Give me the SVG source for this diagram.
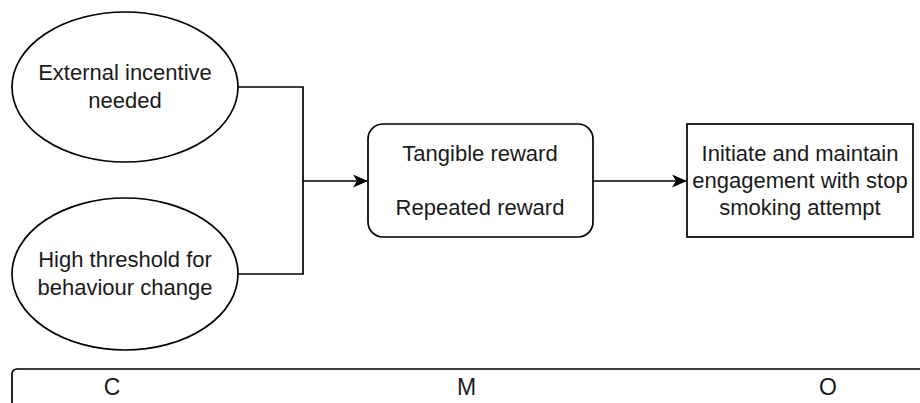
<svg xmlns="http://www.w3.org/2000/svg" width="920" height="403" viewBox="0 0 920 403">
  <style>
    .shape { fill: #ffffff; stroke: #000000; stroke-width: 1.7; }
    .edge { fill: none; stroke: #000000; stroke-width: 1.7; }
    .label { font-family: "Liberation Sans", Arial, sans-serif; font-size: 22px; fill: #1a1a1a; text-anchor: middle; }
    .cmo { font-family: "Liberation Sans", Arial, sans-serif; font-size: 23px; fill: #1a1a1a; text-anchor: middle; }
  </style>
  <defs>
    <marker id="arrow" viewBox="0 0 15 13" refX="14" refY="6.5" markerWidth="15" markerHeight="13" markerUnits="userSpaceOnUse" orient="auto">
      <path d="M0,0 L15,6.5 L0,13 L4,6.5 Z" fill="#000000"/>
    </marker>
  </defs>
  <rect width="920" height="403" fill="#ffffff"/>

  <g id="connectors">
    <path class="edge" d="M238,87 H303 V274 H238"/>
    <path class="edge" d="M303,181 H367" marker-end="url(#arrow)"/>
    <path class="edge" d="M593,181 H686" marker-end="url(#arrow)"/>
  </g>

  <g id="context-incentive">
    <ellipse class="shape" cx="125" cy="87" rx="113" ry="75"/>
    <text class="label" x="125" y="80">External incentive</text>
    <text class="label" x="125" y="108">needed</text>
  </g>

  <g id="context-threshold">
    <ellipse class="shape" cx="125" cy="274" rx="113" ry="76"/>
    <text class="label" x="125" y="267">High threshold for</text>
    <text class="label" x="125" y="295">behaviour change</text>
  </g>

  <g id="mechanism">
    <rect class="shape" x="368" y="124" width="225" height="113" rx="15" ry="15"/>
    <text class="label" x="480" y="161">Tangible reward</text>
    <text class="label" x="480" y="215">Repeated reward</text>
  </g>

  <g id="outcome">
    <rect class="shape" x="687" y="124" width="226" height="113"/>
    <text class="label" x="800" y="161">Initiate and maintain</text>
    <text class="label" x="800" y="188">engagement with stop</text>
    <text class="label" x="800" y="215">smoking attempt</text>
  </g>

  <g id="cmo-legend">
    <rect class="shape" x="12" y="369" width="940" height="60" rx="5" ry="5"/>
    <text class="cmo" x="112" y="395">C</text>
    <text class="cmo" x="466.5" y="395">M</text>
    <text class="cmo" x="828" y="395">O</text>
  </g>
</svg>
